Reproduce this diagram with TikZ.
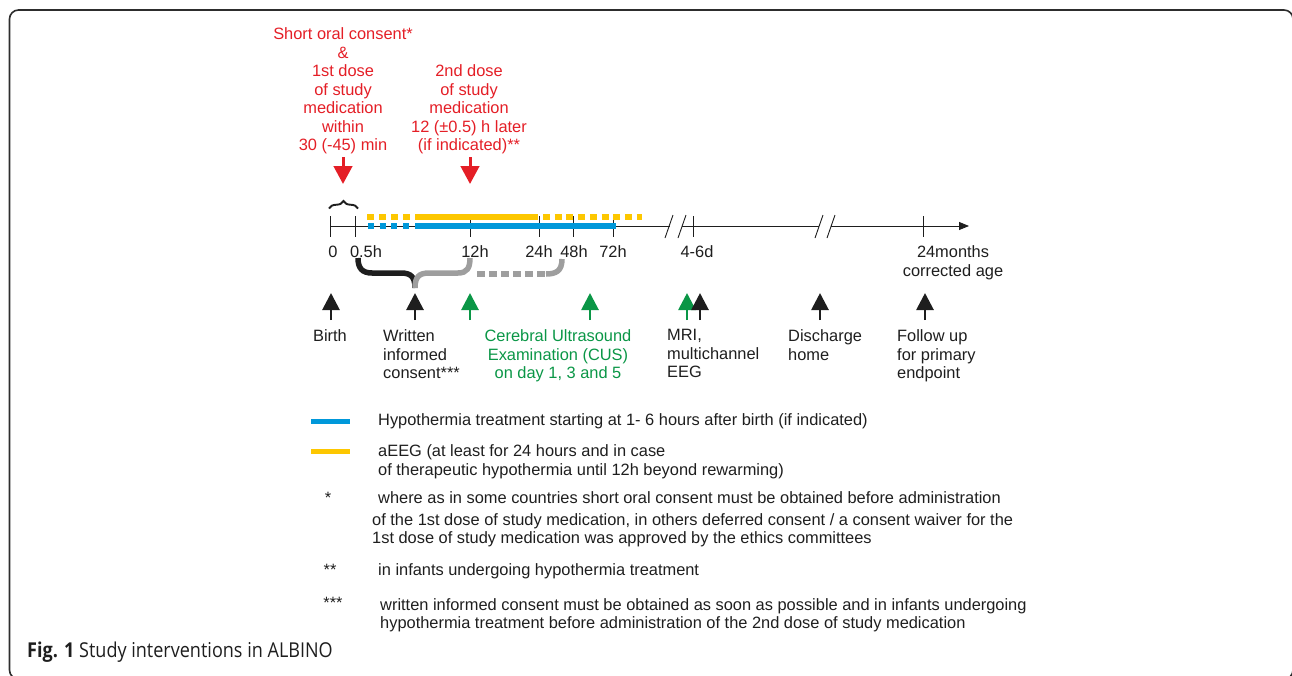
\documentclass[tikz,border=0pt]{standalone}
\usepackage{fontspec}
\usepackage{graphicx}
\setmainfont{Liberation Sans}
\newfontfamily\capfont{Open Sans}
\usetikzlibrary{arrows.meta,decorations.pathreplacing}
\definecolor{myred}{RGB}{228,30,38}
\definecolor{mygreen}{RGB}{10,150,70}
\definecolor{myblue}{RGB}{0,152,218}
\definecolor{myyellow}{RGB}{253,199,0}
\definecolor{mygray}{RGB}{158,158,158}
\definecolor{frameclr}{RGB}{45,45,45}
\definecolor{txtclr}{RGB}{30,30,30}
\begin{document}
\begin{tikzpicture}[x=1pt,y=-1pt,
  txt/.style={font=\fontsize{16.4}{18.5}\selectfont, inner sep=0pt, text=txtclr},
  redtxt/.style={txt, text=myred, align=center, anchor=north},
  greentxt/.style={txt, text=mygreen, align=center, anchor=north},
  blk/.style={txt, align=left, anchor=north west},
  tlab/.style={txt, anchor=center},
  fn/.style={txt, anchor=base west},
  fnstar/.style={txt, anchor=base},
  axisline/.style={line width=0.9pt, txtclr},
  tick/.style={line width=0.9pt, txtclr},
  redarr/.style={-{Triangle[width=18.5pt,length=18pt]}, line width=3pt, myred},
  upblk/.style={-{Triangle[width=17pt,length=17pt]}, line width=2.8pt, txtclr},
  upgrn/.style={-{Triangle[width=17pt,length=17pt]}, line width=2.8pt, mygreen},
  ybar/.style={line width=6.5pt, myyellow},
  bbar/.style={line width=6pt, myblue},
  bracepart/.style={line width=5.5pt},
]
\useasboundingbox (0,0) rectangle (1292,675);
\begin{scope}
\clip (0,0) rectangle (1292,675);
\draw[frameclr, line width=1.6pt, rounded corners=9pt] (9.5,10) rectangle (1293,679);
\end{scope}

% red texts and arrows
\node[redtxt] (red1) at (343,27.5) {Short oral consent*\\\&\\1st dose\\of study\\medication\\within\\30 (-45) min};
\node[redtxt] (red2) at (469,64.5) {2nd dose\\of study\\medication\\12 (±0.5) h later\\(if indicated)**};
\coordinate (r1a) at (343,157);
\coordinate (r1b) at (343,184);
\coordinate (r2a) at (470,157);
\coordinate (r2b) at (470,184);
\draw[redarr] (r1a) -- (r1b);
\draw[redarr] (r2a) -- (r2b);

% axis
\coordinate (ax0) at (330,226);
\coordinate (br1a) at (670,226);
\coordinate (br1b) at (682,226);
\coordinate (br2a) at (819,226);
\coordinate (br2b) at (831,226);
\coordinate (axend) at (969,226);
\draw[axisline] (ax0) -- (br1a);
\draw[axisline] (br1b) -- (br2a);
\draw[axisline, -{Triangle[width=8pt,length=10pt]}] (br2b) -- (axend);
\foreach \x in {330,355,470,539,573,613,693,923}{
  \draw[tick] (\x,216) -- (\x,237);
}
\foreach \x in {665,678,815,827}{
  \draw[tick] (\x,238) -- (\x+8,215);
}

% bars
\draw[ybar, dash pattern=on 7pt off 5pt] (367,217) -- (410,217);
\draw[ybar] (415,217) -- (538,217);
\draw[ybar, dash pattern=on 7pt off 4.7pt] (543,217) -- (642,217);
\draw[bbar, dash pattern=on 6pt off 5.7pt] (368,226) -- (409,226);
\draw[bbar] (415,226) -- (616,226);

% top brace
\draw[txtclr, line width=1.9pt, decorate, decoration={brace, amplitude=7.5pt}] (329,208.5) -- (358,208.5);

% tick labels
\node[tlab] (l0) at (333,252) {0};
\node[tlab] (l05) at (366,252) {0.5h};
\node[tlab] (l12) at (475,252) {12h};
\node[tlab] (l24) at (539,252) {24h};
\node[tlab] (l48) at (574,252) {48h};
\node[tlab] (l72) at (613,252) {72h};
\node[tlab] (l46) at (697,252) {4-6d};
\node[txt, align=center, anchor=north] (l24m) at (953,245.5) {24months\\corrected age};

% lower brace
\coordinate (bs) at (358,258);
\coordinate (btip) at (415,288);
\coordinate (be) at (470,258);
\draw[bracepart, txtclr] (bs) .. controls (358,268) and (362,273) .. (372,273) -- (401,273) .. controls (411,273) and (415,277) .. (btip);
\draw[bracepart, mygray] (btip) .. controls (415,277) and (419,273) .. (429,273) -- (458,273) .. controls (467,273) and (470,268) .. (be);
\coordinate (ds) at (477,274);
\coordinate (de) at (546,274);
\coordinate (dend) at (562,259);
\draw[bracepart, mygray, dash pattern=on 8pt off 4pt] (ds) -- (de);
\draw[bracepart, mygray] (de) .. controls (556,274) and (562,271) .. (dend);

% up arrows
\coordinate (aB1) at (331,320); \coordinate (aB2) at (331,293);
\coordinate (aW1) at (415,320); \coordinate (aW2) at (415,293);
\coordinate (aG1) at (470,320); \coordinate (aG2) at (470,293);
\coordinate (aC1) at (590,320); \coordinate (aC2) at (590,293);
\coordinate (aM1) at (687,320); \coordinate (aM2) at (687,293);
\coordinate (aN1) at (700,320); \coordinate (aN2) at (700,293);
\coordinate (aD1) at (820,320); \coordinate (aD2) at (820,293);
\coordinate (aF1) at (925,320); \coordinate (aF2) at (925,293);
\draw[upblk] (aB1) -- (aB2);
\draw[upblk] (aW1) -- (aW2);
\draw[upgrn] (aG1) -- (aG2);
\draw[upgrn] (aC1) -- (aC2);
\draw[upgrn] (aM1) -- (aM2);
\draw[upblk] (aN1) -- (aN2);
\draw[upblk] (aD1) -- (aD2);
\draw[upblk] (aF1) -- (aF2);

% arrow labels
\node[tlab] (birth) at (330,336) {Birth};
\node[blk] (written) at (383,329.5) {Written\\informed\\consent***};
\node[greentxt] (cus) at (558,329.5) {Cerebral Ultrasound\\Examination (CUS)\\on day 1, 3 and 5};
\node[blk] (mri) at (667,329.5) {MRI,\\multichannel\\EEG};
\node[blk] (dis) at (788,329.5) {Discharge\\home};
\node[blk] (fol) at (897,329.5) {Follow up\\for primary\\endpoint};

% legend
\coordinate (lb1) at (311,421); \coordinate (lb2) at (350,421);
\coordinate (ly1) at (311,451); \coordinate (ly2) at (350,451);
\draw[line width=5pt, myblue] (lb1) -- (lb2);
\draw[line width=5pt, myyellow] (ly1) -- (ly2);
\node[txt, anchor=west] (leg1) at (378,421) {Hypothermia treatment starting at 1- 6 hours after birth (if indicated)};
\node[blk] (leg2) at (378,444.5) {aEEG (at least for 24 hours and in case\\of therapeutic hypothermia until 12h beyond rewarming)};

% footnotes
\node[fnstar] (s1) at (328,503) {*};
\node[fn] (f1a) at (378,503) {where as in some countries short oral consent must be obtained before administration};
\node[fn] (f1b) at (372,525) {of the 1st dose of study medication, in others deferred consent / a consent waiver for the};
\node[fn] (f1c) at (372,543) {1st dose of study medication was approved by the ethics committees};
\node[fnstar] (s2) at (330,575) {**};
\node[fn] (f2) at (378,575) {in infants undergoing hypothermia treatment};
\node[fnstar] (s3) at (333,608) {***};
\node[fn] (f3a) at (380,610) {written informed consent must be obtained as soon as possible and in infants undergoing};
\node[fn] (f3b) at (380,628) {hypothermia treatment before administration of the 2nd dose of study medication};

% caption
\node[anchor=base west, inner sep=0pt, font=\capfont\fontsize{20.5}{22}\selectfont, text=txtclr] (cap) at (27,657) {\scalebox{0.88}[1]{\textbf{Fig. 1} Study interventions in ALBINO}};
\end{tikzpicture}
\end{document}
